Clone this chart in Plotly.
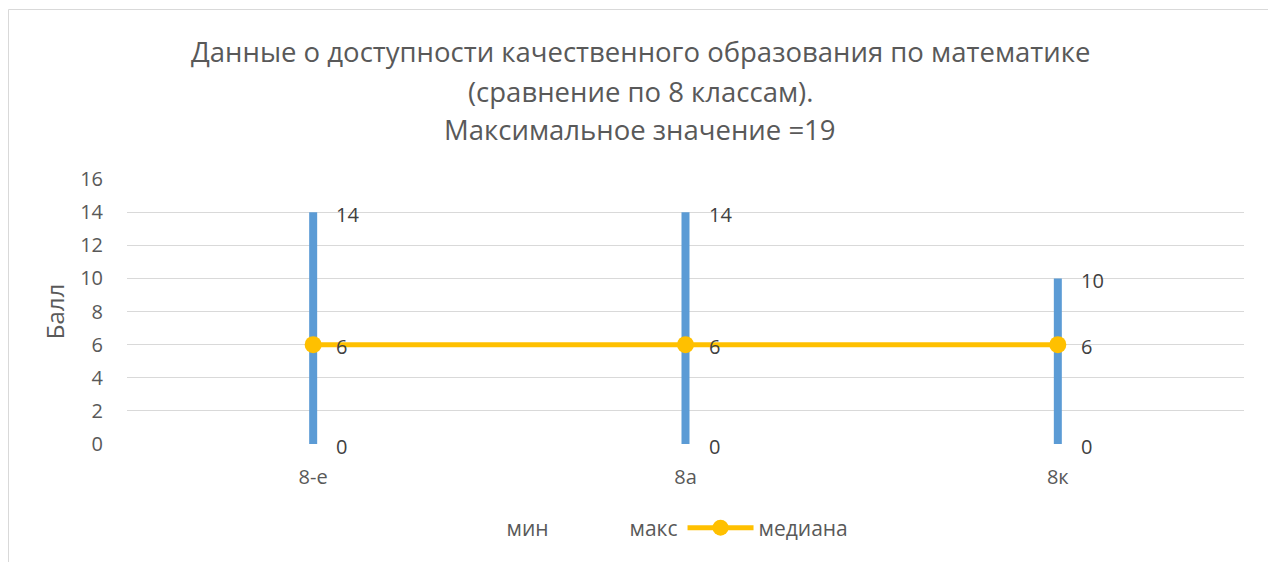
import plotly.graph_objects as go

categories = ["8-е", "8а", "8к"]
min_vals = [0, 0, 0]
max_vals = [14, 14, 10]
median_vals = [6, 6, 6]
title_lines = ["Данные о доступности качественного образования по математике",
               "(сравнение по 8 классам).",
               "Максимальное значение =19"]

O = 8  # page body offset
L, R, T, B = 127 - O, 32, 179 - O, 118
W, H = 1276 - O, 562 - O
pw, ph = W - L - R, H - T - B

def px_x(px):
    return (px - O - L) / pw

def px_y(py):
    return (H - B - (py - O)) / ph

FONT = "Open Sans"
GRAY = "#595959"
BLUE = "#5B9BD5"
YEL = "#FFC000"

fig = go.Figure()

# high-low lines
hx, hy = [], []
for c, lo, hi in zip(categories, min_vals, max_vals):
    hx += [c, c, None]
    hy += [lo, hi, None]
fig.add_trace(go.Scatter(x=hx, y=hy, mode="lines", line=dict(color=BLUE, width=8),
                         showlegend=False, hoverinfo="skip"))

fig.add_trace(go.Scatter(x=categories, y=min_vals, mode="lines", name="мин",
                         line=dict(color="rgba(0,0,0,0)", width=0)))
fig.add_trace(go.Scatter(x=categories, y=max_vals, mode="lines", name="макс",
                         line=dict(color="rgba(0,0,0,0)", width=0)))
fig.add_trace(go.Scatter(x=categories, y=median_vals, mode="lines+markers", name="медиана",
                         line=dict(color=YEL, width=5),
                         marker=dict(color=YEL, size=17)))

annotations = []
for series in (min_vals, max_vals, median_vals):
    for c, v in zip(categories, series):
        annotations.append(dict(x=c, y=v, text=str(v), showarrow=False, xanchor="left",
                                yanchor="middle", xshift=21, yshift=-2,
                                font=dict(family=FONT, size=20, color="#404040")))

for i, (line, py) in enumerate(zip(title_lines, [51, 91, 129])):
    annotations.append(dict(x=px_x(640), y=px_y(py), xref="paper", yref="paper",
                            text=line, showarrow=False, xanchor="center", yanchor="middle",
                            font=dict(family=FONT, size=27.5, color=GRAY)))

fig.update_layout(
    width=W, height=H,
    margin=dict(l=L, r=R, t=T, b=B),
    paper_bgcolor="white", plot_bgcolor="white",
    font=dict(family=FONT, size=20, color=GRAY),
    annotations=annotations,
    showlegend=True,
    legend=dict(orientation="h", x=px_x(642), xanchor="center", y=px_y(528), yanchor="middle",
                font=dict(family=FONT, size=21, color=GRAY), itemwidth=66,
                traceorder="normal"),
    xaxis=dict(type="category", range=[-0.5, 2.5], showgrid=False, showline=False,
               zeroline=False, ticks="outside", ticklen=15, tickcolor="rgba(0,0,0,0)",
               tickfont=dict(size=20, color=GRAY)),
    yaxis=dict(range=[0, 16], dtick=2, showgrid=True, gridcolor="#D9D9D9", gridwidth=1,
               zeroline=False, showline=False, ticks="outside", ticklen=19,
               tickcolor="rgba(0,0,0,0)",
               tickfont=dict(size=20, color=GRAY),
               title=dict(text="Балл", font=dict(size=24, color=GRAY), standoff=8)),
    shapes=[dict(type="rect", xref="paper", yref="paper",
                 x0=px_x(8.5), x1=px_x(1268.5), y0=px_y(580), y1=px_y(9.5),
                 line=dict(color="#D9D9D9", width=1), layer="below")],
)

fig.write_html("out.html")
